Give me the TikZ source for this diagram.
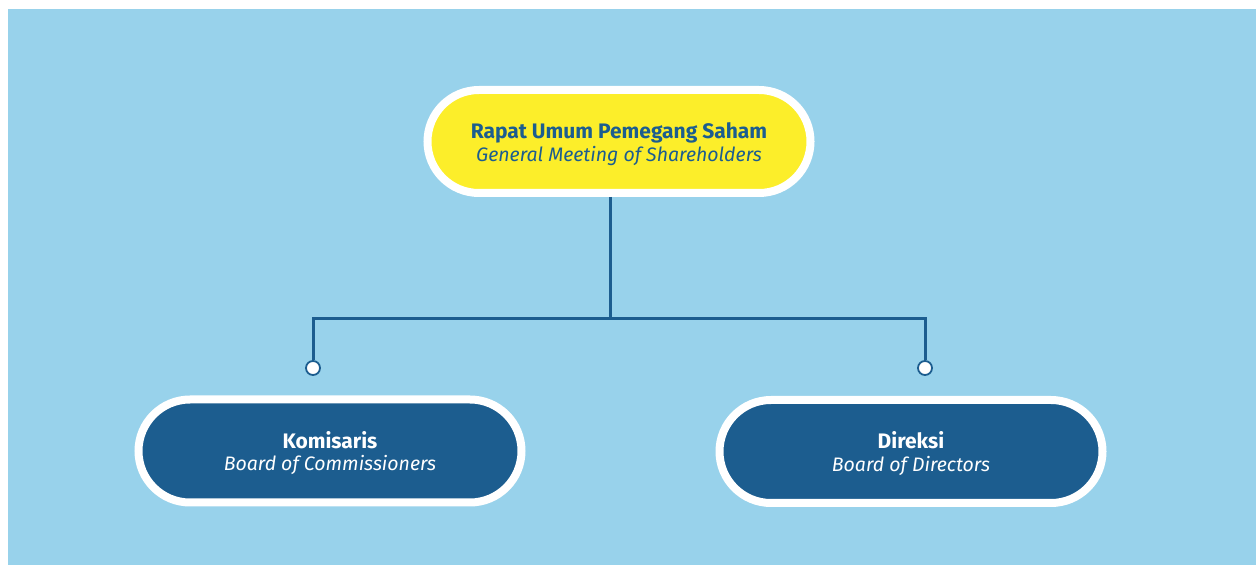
\documentclass[tikz,border=0pt]{standalone}
\usepackage{fontspec}
\setmainfont{Fira Sans}
\definecolor{bgblue}{HTML}{98D2EB}
\definecolor{darkblue}{HTML}{1C5D8F}
\definecolor{ylw}{HTML}{FCEE2A}
\newcommand{\headtxt}[1]{{\fontsize{21}{22.5}\selectfont\bfseries\rule{0pt}{21.5pt}#1}}
\newcommand{\subtxt}[1]{{\fontsize{19.5}{22.5}\selectfont\itshape #1}}
\begin{document}
\begin{tikzpicture}[x=1pt,y=1pt,
  pill/.style={draw=white, line width=8pt, rounded corners=51.5pt,
    minimum width=383pt, minimum height=103pt, inner sep=0pt,
    align=center, font=\fontsize{19.5}{22.5}\selectfont},
  topbox/.style={pill, fill=ylw, text=darkblue},
  lowbox/.style={pill, fill=darkblue, text=white},
  conn/.style={draw=darkblue, line width=3pt},
  dot/.style={circle, draw=darkblue, fill=white, line width=1.8pt,
    minimum size=14pt, inner sep=0pt}]
\useasboundingbox (0,0) rectangle (1256,565);
\fill[white] (0,0) rectangle (1256,565);
\fill[bgblue] (8,0) rectangle (1256,556);
\node[topbox] (top) at (619,423.5) {\headtxt{Rapat Umum Pemegang Saham}\\\subtxt{General Meeting of Shareholders}};
\node[lowbox] (kom) at (330,114) {\headtxt{Komisaris}\\\subtxt{Board of Commissioners}};
\node[lowbox] (dir) at (911,113.5) {\headtxt{Direksi}\\\subtxt{Board of Directors}};
\coordinate (j) at (610,246);
\node[dot] (c1) at (313,197) {};
\node[dot] (c2) at (925,197) {};
\draw[conn] (top.south -| j) -- (j);
\draw[conn] (c1.north) |- (j) -| (c2.north);
\end{tikzpicture}
\end{document}
